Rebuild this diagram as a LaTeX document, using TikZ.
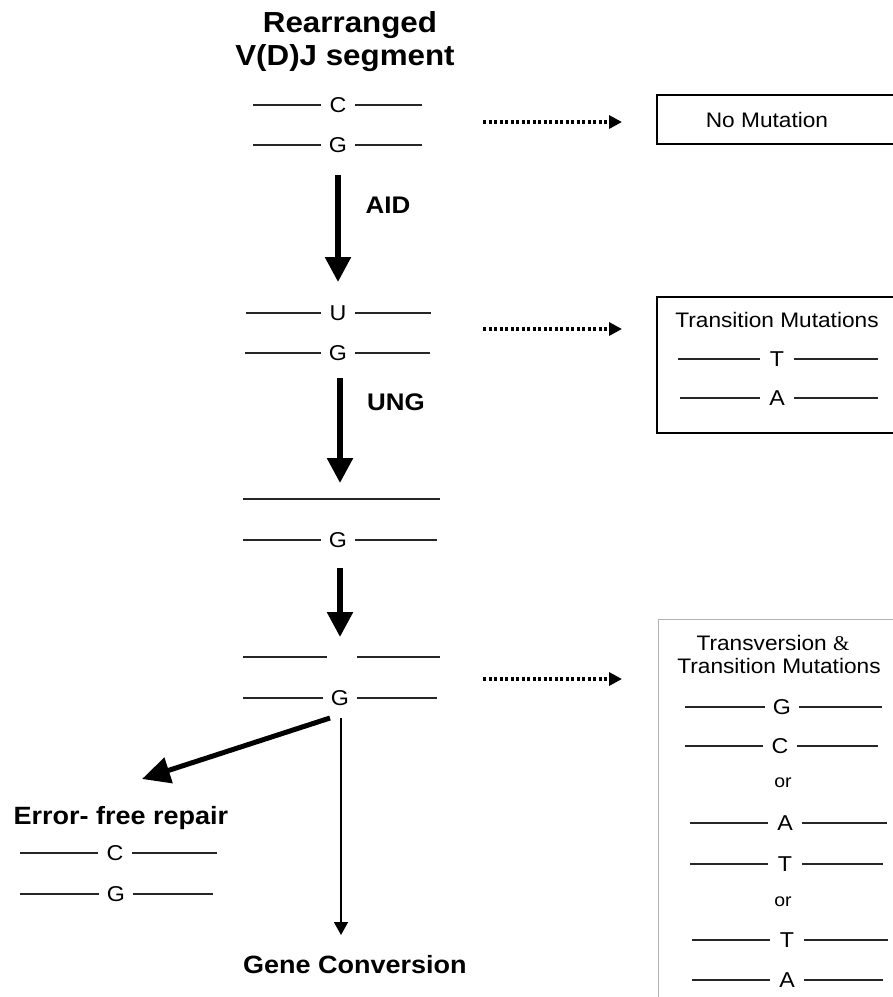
\documentclass[tikz,border=0pt]{standalone}
\usepackage{fontspec}
\setmainfont{Liberation Sans}[FakeStretch=1.08]
\newfontfamily\serifamp{Liberation Serif}
\usetikzlibrary{arrows.meta}
\tikzset{
  base/.style={inner sep=0pt, minimum width=34pt, text height=15.4pt, text depth=0pt, font=\fontsize{21.5}{25}\selectfont},
  strand/.style={line width=1.4pt, black!85},
  boldlabel/.style={inner sep=0pt, font=\fontsize{24}{28}\selectfont\bfseries},
  bigtitle/.style={inner sep=0pt, anchor=base, font=\fontsize{29}{34}\selectfont\bfseries},
  boxtext/.style={inner sep=0pt, anchor=base, font=\fontsize{21}{25}\selectfont},
  ortext/.style={inner sep=0pt, font=\fontsize{18}{22}\selectfont},
  bigarrow/.style={line width=5.5pt, -{Triangle[width=25pt,length=25pt]}},
  diagarrow/.style={line width=5pt, -{Triangle[width=26pt,length=28pt]}},
  thinarrow/.style={line width=1.6pt, -{Triangle[width=14pt,length=13pt]}},
  dotarrow/.style={line width=3.5pt, dash pattern=on 3pt off 2.5pt, -{Triangle[width=13pt,length=13pt]}},
  resultbox/.style={line width=1.5pt, black},
  lightbox/.style={line width=1pt, black!30},
}
\newcommand{\dnastrand}[6]{%
  \node[base] (#1) at (#2,#3) {#4};
  \draw[strand] (#5,#3) -- (#1.west);
  \draw[strand] (#1.east) -- (#6,#3);
}
\begin{document}
\begin{tikzpicture}[x=1pt,y=-1pt]
\useasboundingbox (0,0) rectangle (893,997);
\clip (0,0) rectangle (893,997);
\fill[white] (0,0) rectangle (893,997);

% titles
\node[bigtitle] (t1) at (350,32) {Rearranged};
\node[bigtitle] (t2) at (345,65) {V(D)J segment};

% main column strands
\dnastrand{c1}{338}{105}{C}{253}{422}
\dnastrand{g1}{338}{145}{G}{253}{422}
\dnastrand{u1}{338}{313}{U}{246}{431}
\dnastrand{g2}{338}{353}{G}{245}{430}
\coordinate (fl1) at (243,499);
\coordinate (fl2) at (440,499);
\draw[strand] (fl1) -- (fl2);
\dnastrand{g3}{338}{540}{G}{243}{437}
\coordinate (gl1) at (243,657);
\coordinate (gl2) at (327,657);
\coordinate (gl3) at (357,657);
\coordinate (gl4) at (440,657);
\draw[strand] (gl1) -- (gl2);
\draw[strand] (gl3) -- (gl4);
\dnastrand{g4}{340}{698}{G}{243}{437}

% enzyme labels
\node[boldlabel] (aid) at (388,205) {AID};
\node[boldlabel] (ung) at (396,402) {UNG};

% vertical thick arrows
\coordinate (a1s) at (338,175);
\coordinate (a1e) at (338,282);
\coordinate (a2s) at (340,378);
\coordinate (a2e) at (340,483);
\coordinate (a3s) at (340,568);
\coordinate (a3e) at (340,637);
\draw[bigarrow] (a1s) -- (a1e);
\draw[bigarrow] (a2s) -- (a2e);
\draw[bigarrow] (a3s) -- (a3e);

% diagonal arrow and thin arrow
\coordinate (ds) at (330,718);
\coordinate (de) at (142,779);
\draw[diagarrow] (ds) -- (de);
\coordinate (ts) at (341,718);
\coordinate (te) at (341,935);
\draw[thinarrow] (ts) -- (te);

% error-free repair
\node[boldlabel, anchor=base, font=\fontsize{25}{30}\selectfont\bfseries] (efr) at (121,824) {Error- free repair};
\dnastrand{c5}{115}{853}{C}{20}{217}
\dnastrand{g5}{116}{894}{G}{20}{213}

% gene conversion
\node[boldlabel, anchor=base west, font=\fontsize{25}{30}\selectfont\bfseries] (gc) at (243,973) {Gene Conversion};

% dotted arrows
\coordinate (d1s) at (483,122);
\coordinate (d1e) at (622,122);
\coordinate (d2s) at (483,329);
\coordinate (d2e) at (622,329);
\coordinate (d3s) at (483,679);
\coordinate (d3e) at (622,679);
\draw[dotarrow] (d1s) -- (d1e);
\draw[dotarrow] (d2s) -- (d2e);
\draw[dotarrow] (d3s) -- (d3e);

% box 1
\draw[resultbox] (657,95) rectangle (905,144);
\node[boxtext] (nm) at (767,127) {No Mutation};

% box 2
\draw[resultbox] (657,297) rectangle (905,433);
\node[boxtext] (tm) at (777,327) {Transition Mutations};
\dnastrand{t2}{777}{359}{T}{678}{878}
\dnastrand{a2}{777}{398}{A}{680}{878}

% box 3
\draw[lightbox] (658,619) rectangle (905,1010);
\node[boxtext] (tv1) at (773,650) {Transversion {\serifamp\&}};
\node[boxtext] (tv2) at (779,673) {Transition Mutations};
\dnastrand{g6}{782}{707}{G}{685}{882}
\dnastrand{c6}{780}{746}{C}{685}{878}
\node[ortext] (or1) at (783,783) {or};
\dnastrand{a6}{785}{823}{A}{690}{887}
\dnastrand{t6}{785}{864}{T}{690}{883}
\node[ortext] (or2) at (783,902) {or};
\dnastrand{t7}{787}{940}{T}{692}{888}
\dnastrand{a7}{787}{980}{A}{692}{883}
\end{tikzpicture}
\end{document}
